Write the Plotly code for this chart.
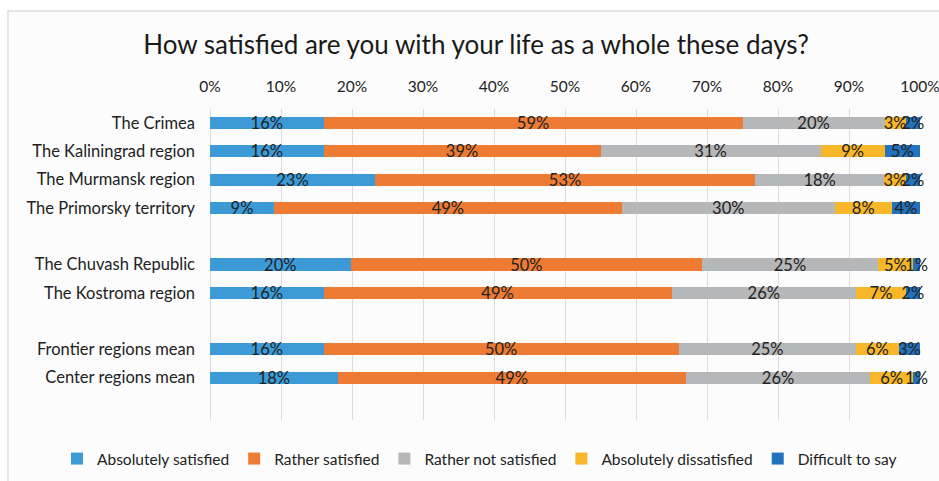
import plotly.graph_objects as go

# Survey: "How satisfied are you with your life as a whole these days?" (shares, %)
regions = [
    "The Crimea",
    "The Kaliningrad region",
    "The Murmansk region",
    "The Primorsky territory",
    "The Chuvash Republic",
    "The Kostroma region",
    "Frontier regions mean",
    "Center regions mean",
]
# blank rows separating the groups of regions
groups = [4, 2, 2]

absolutely_satisfied = [16, 16, 23, 9, 20, 16, 16, 18]
rather_satisfied = [59, 39, 53, 49, 50, 49, 50, 49]
rather_not_satisfied = [20, 31, 18, 30, 25, 26, 25, 26]
absolutely_dissatisfied = [3, 9, 3, 8, 5, 7, 6, 6]
difficult_to_say = [2, 5, 2, 4, 1, 2, 3, 1]

series = [
    ("Absolutely satisfied", absolutely_satisfied, "#3c9bd7"),
    ("Rather satisfied", rather_satisfied, "#ee7b34"),
    ("Rather not satisfied", rather_not_satisfied, "#b5b7b9"),
    ("Absolutely dissatisfied", absolutely_dissatisfied, "#f8b629"),
    ("Difficult to say", difficult_to_say, "#2372be"),
]

FONT = "Lato"
TEXT = "#222222"
SIZE = 16.5

# category order with empty spacer rows between groups
rows = []
idx = 0
for g_i, n in enumerate(groups):
    rows.extend(regions[idx: idx + n])
    idx += n
    if g_i < len(groups) - 1:
        rows.append(" " * (g_i + 1))


def with_gaps(values):
    lookup = dict(zip(regions, values))
    return [lookup.get(r) for r in rows]


fig = go.Figure()
for name, vals, color in series:
    v = with_gaps(vals)
    fig.add_trace(go.Bar(
        name=name,
        y=rows,
        x=v,
        orientation="h",
        marker=dict(color=color, line=dict(width=0)),
        text=[f"{x}%" if x is not None else "" for x in v],
        textposition="inside",
        insidetextanchor="middle",
        textangle=0,
        textfont=dict(family=FONT, size=SIZE, color=TEXT),
        cliponaxis=False,
    ))

fig.update_layout(
    barmode="stack",
    barnorm="percent",
    bargap=0.57,
    width=939,
    height=481,
    margin=dict(l=210, r=19, t=109, b=61, autoexpand=False),
    paper_bgcolor="white",
    plot_bgcolor="rgba(0,0,0,0)",
    font=dict(family=FONT, size=SIZE, color=TEXT),
    uniformtext=dict(minsize=SIZE, mode="show"),
    title=dict(
        text="How satisfied are you with your life as a whole these days?",
        x=0.507, xref="container", xanchor="center",
        y=0.906, yref="container", yanchor="middle",
        font=dict(family=FONT, size=26, color="#1a1a1a"),
    ),
    xaxis=dict(
        side="top",
        range=[0, 100],
        tickmode="array",
        tickvals=list(range(0, 101, 10)),
        ticktext=[f"{t}%" for t in range(0, 101, 10)],
        ticklabeloverflow="allow",
        ticklabelstandoff=13,
        showgrid=True,
        gridcolor="#dcdcdc",
        gridwidth=1,
        zeroline=True,
        zerolinecolor="#dcdcdc",
        zerolinewidth=1,
        showline=False,
        ticks="",
        tickfont=dict(family=FONT, size=15.5, color=TEXT),
    ),
    yaxis=dict(
        categoryorder="array",
        categoryarray=rows,
        range=[len(rows) + 0.5, -0.5],
        showgrid=False,
        zeroline=False,
        ticks="",
        ticklabelstandoff=14,
        tickfont=dict(family=FONT, size=SIZE, color=TEXT),
    ),
    legend=dict(
        orientation="h",
        x=-0.2155, xanchor="left",
        y=-0.1254, yanchor="middle",
        font=dict(family=FONT, size=15.5, color=TEXT),
        traceorder="normal",
        itemwidth=30,
        bgcolor="rgba(0,0,0,0)",
    ),
    shapes=[dict(
        type="rect", xref="paper", yref="paper",
        x0=-0.2845, x1=1.2, y0=-0.5, y1=1.315,
        line=dict(color="#dedede", width=1.5),
        fillcolor="#fcfcfc",
        layer="below",
    )],
)

fig.write_html("out.html")
